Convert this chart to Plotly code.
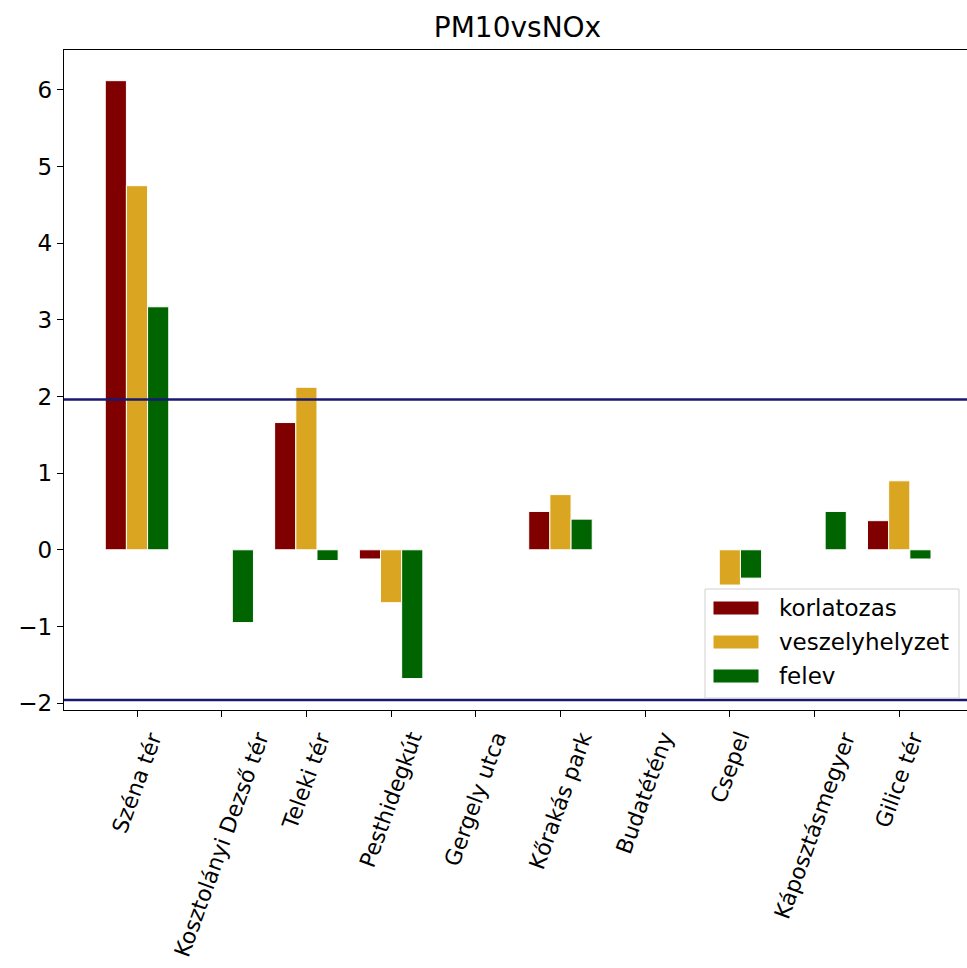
import plotly.graph_objects as go

# Station names (x categories)
stations = ["Széna tér", "Kosztolányi Dezső tér", "Teleki tér", "Pesthidegkút",
            "Gergely utca", "Kőrakás park", "Budatétény", "Csepel",
            "Káposztásmegyer", "Gilice tér"]

# Test statistics per period (None = no value for that station)
korlatozas = [6.12, None, 1.66, -0.12, None, 0.50, None, None, None, 0.38]
veszelyhelyzet = [4.75, None, 2.12, -0.69, None, 0.72, None, -0.46, None, 0.90]
felev = [3.17, -0.95, -0.14, -1.68, None, 0.40, None, -0.37, 0.50, -0.12]

series_names = ["korlatozas", "veszelyhelyzet", "felev"]
series_colors = ["#800000", "#DAA520", "#006400"]
critical = 1.96

W, H = 967, 968
L, R, T, B = 64, 967, 50, 710  # plot area in pixels
FONT = "DejaVu Sans"
FS = 23

fig = go.Figure()
for name, vals, col in zip(series_names, [korlatozas, veszelyhelyzet, felev], series_colors):
    fig.add_trace(go.Bar(
        x=stations, y=vals, name=name, marker_color=col,
        marker_line=dict(color="white", width=1), showlegend=False,
    ))

# Significance thresholds
for yv in (critical, -critical):
    fig.add_shape(type="line", xref="paper", yref="y", x0=0, x1=1, y0=yv, y1=yv,
                  line=dict(color="#191970", width=2.5), layer="above")


def px(xp):
    return (xp - L) / (R - L)


def py(yp):
    return (B - yp) / (B - T)


# Rotated category labels, centred under each tick
for s in stations:
    fig.add_annotation(xref="x", yref="paper", x=s, y=py(727), text=s,
                       textangle=-70, showarrow=False, xanchor="center", yanchor="top",
                       borderpad=0, font=dict(family=FONT, size=22, color="black"))

# Legend box
fig.add_shape(type="rect", xref="paper", yref="paper",
              x0=px(705), x1=px(959), y0=py(698), y1=py(589),
              line=dict(color="#d0d0d0", width=1), fillcolor="rgba(255,255,255,0.85)",
              layer="above")
for i, (name, col) in enumerate(zip(series_names, series_colors)):
    cy = 608 + i * 34
    fig.add_shape(type="rect", xref="paper", yref="paper",
                  x0=px(713), x1=px(759), y0=py(cy + 7), y1=py(cy - 7),
                  line=dict(color="white", width=1), fillcolor=col, layer="above")
    fig.add_annotation(xref="paper", yref="paper", x=px(777), y=py(cy),
                       text=name, showarrow=False, xanchor="left", yanchor="middle",
                       font=dict(family=FONT, size=FS, color="black"))

fig.update_layout(
    width=W, height=H,
    margin=dict(l=L, r=W - R, t=T, b=H - B),
    paper_bgcolor="white", plot_bgcolor="white",
    barmode="group", bargap=0.25, bargroupgap=0,
    font=dict(family=FONT, size=FS, color="black"),
    title=dict(text="PM10vsNOx", x=517.5 / W, xanchor="center",
               y=1 - 27 / H, yanchor="middle",
               font=dict(family=FONT, size=28, color="black")),
)
fig.update_xaxes(
    range=[-0.862, 9.80], showgrid=False, zeroline=False,
    showline=True, linecolor="black", linewidth=1.3, mirror=True,
    ticks="outside", ticklen=6, tickwidth=1.3, tickcolor="black",
    showticklabels=False,
)
fig.update_yaxes(
    range=[-2.09, 6.52], showgrid=False, zeroline=False,
    showline=True, linecolor="black", linewidth=1.3, mirror=False,
    ticks="outside", ticklen=6, tickwidth=1.3, tickcolor="black",
    tickvals=[-2, -1, 0, 1, 2, 3, 4, 5, 6], ticktext=["−2", "−1", "0", "1", "2", "3", "4", "5", "6"],
    tickfont=dict(family=FONT, size=FS, color="black"),
)

fig.write_html("out.html")
